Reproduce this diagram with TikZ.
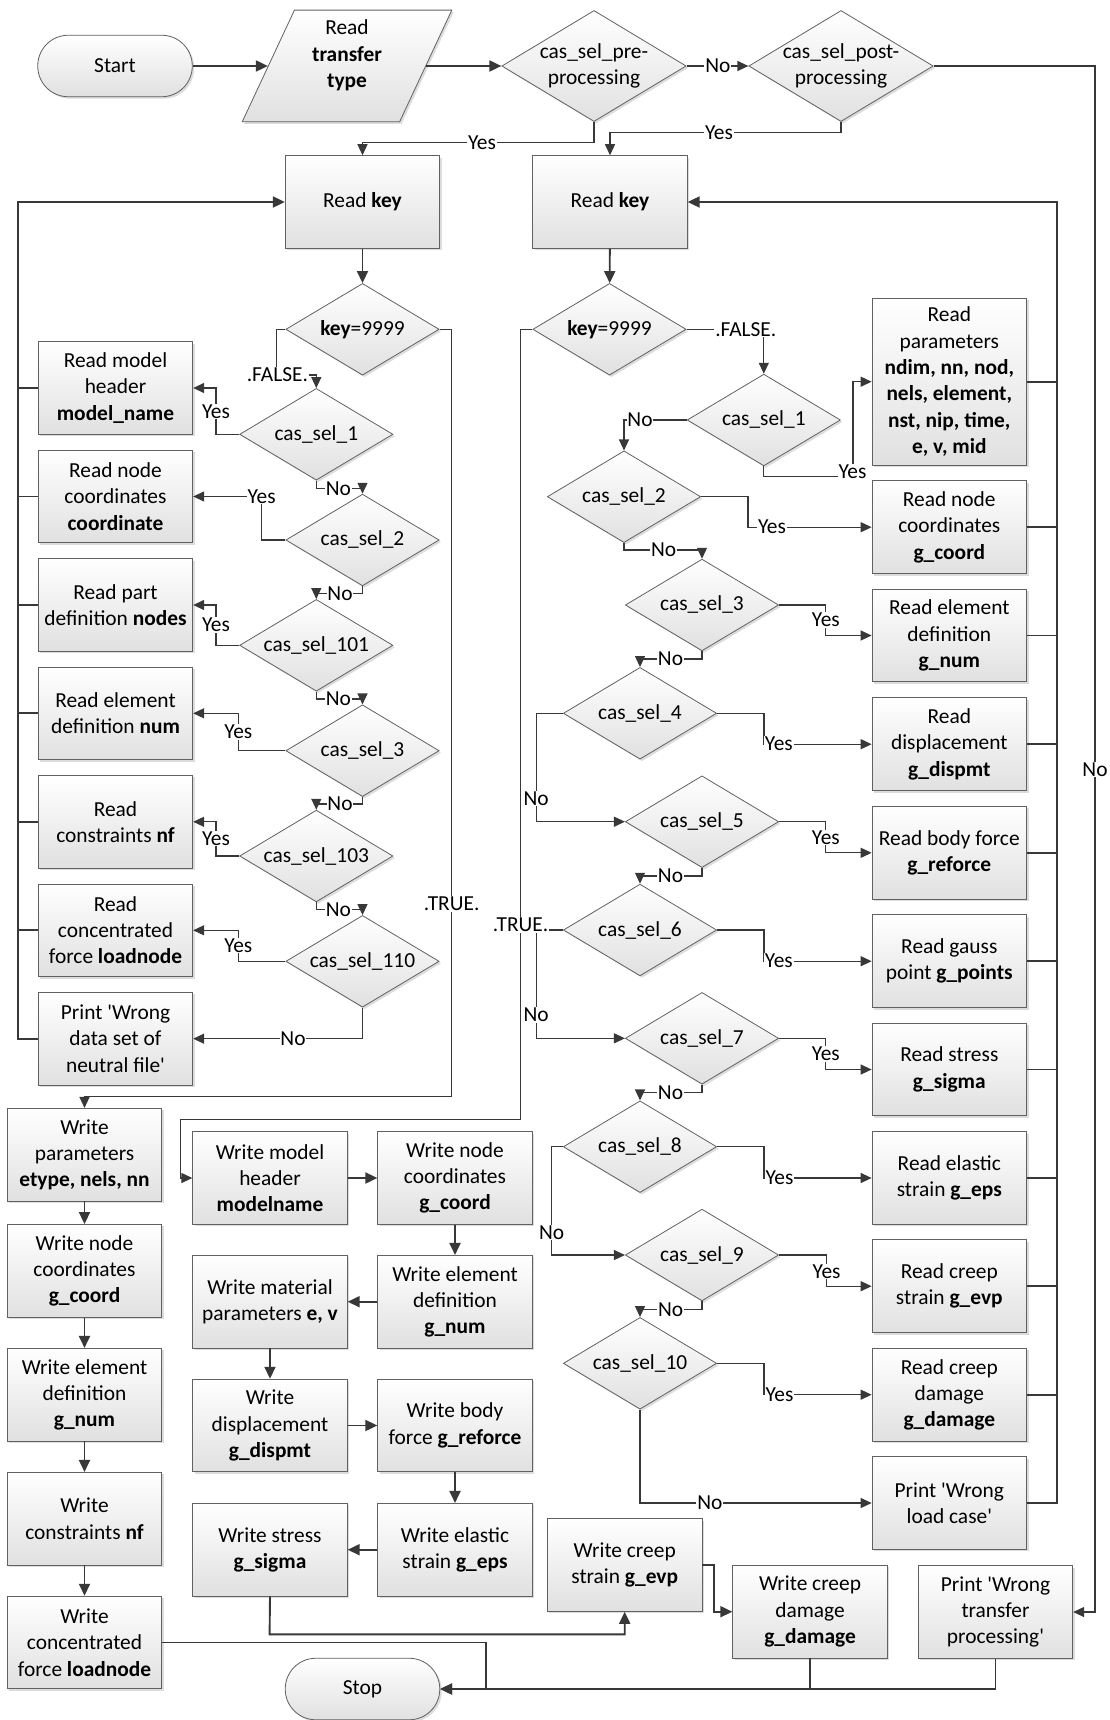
\documentclass[tikz,border=0pt]{standalone}
\usepackage{fontspec}
\setmainfont{Carlito}
\usetikzlibrary{arrows.meta,shapes.geometric,shadows}
\newcommand{\sq}{\textquotesingle}

\begin{document}
\begin{tikzpicture}[x=1pt,y=-1pt,
  every node/.style={font=\fontsize{21.4}{26.3}\selectfont},
  fillbox/.style={top color=white, bottom color=black!12, draw=black!62, line width=0.8pt,
    drop shadow={shadow xshift=2pt, shadow yshift=-2pt, fill=black!30, opacity=0.45}},
  procbox/.style={fillbox, rectangle, minimum width=154.5, minimum height=92.7, align=center, inner sep=1pt},
  tallbox/.style={procbox, minimum height=166.7},
  termnode/.style={fillbox, rectangle, rounded corners=30.5pt, minimum width=154.5, minimum height=61.5},
  paranode/.style={fillbox, trapezium, trapezium left angle=63.6, trapezium right angle=116.4,
    trapezium stretches=true, minimum width=209.7, minimum height=111.7, inner sep=6pt},
  dectxt/.style={align=center, inner sep=0pt},
  decnode/.style={fillbox, diamond, inner sep=0pt, minimum width=153.3, minimum height=91.7,
    label={[dectxt]center:{#1}}},
  bigdec/.style={decnode={#1}, minimum width=184.4, minimum height=111},
  ln/.style={draw=black!78, line width=1.25pt},
  lk/.style={ln, -{Triangle[length=11pt,width=10pt]}},
  lkb/.style={ln, line width=1.9pt, -{Triangle[length=12pt,width=11pt]}},
  lnb/.style={ln, line width=1.9pt},
  tag/.style={fill=white, inner sep=0.8pt}
]
\useasboundingbox (0,0) rectangle (1109,1720);

% ---------- top row ----------
\node[termnode] (start) at (115,66) {Start};
\node[paranode] (para) at (347,66) {};
\node[dectxt] (paratext) at (347,55.3) {Read\\\textbf{transfer}\\\textbf{type}};
\node[bigdec={cas\_sel\_pre-\\processing}] (D1) at (594,66) {};
\node[bigdec={cas\_sel\_post-\\processing}] (D2) at (841,66) {};

\node[procbox] (KL) at (362.5,202) {Read \textbf{key}};
\node[procbox] (KR) at (610,202) {Read \textbf{key}};
\node[decnode={\textbf{key}=9999}] (ZL) at (362.5,329.3) {};
\node[decnode={\textbf{key}=9999}] (ZR) at (609.5,329.3) {};

% ---------- pre-processing branch ----------
\node[decnode={cas\_sel\_1}]   (CL1)   at (316.3,434.3) {};
\node[decnode={cas\_sel\_2}]   (CL2)   at (362.5,540) {};
\node[decnode={cas\_sel\_101}] (CL101) at (316.3,645.3) {};
\node[decnode={cas\_sel\_3}]   (CL3)   at (362.5,750.7) {};
\node[decnode={cas\_sel\_103}] (CL103) at (316.3,856) {};
\node[decnode={cas\_sel\_110}] (CL110) at (362.5,961.3) {};

\node[procbox] (BL1) at (115.5,388)    {Read model\\header\\\textbf{model\_name}};
\node[procbox] (BL2) at (115.5,496.5)  {Read node\\coordinates\\\textbf{coordinate}};
\node[procbox] (BL3) at (115.5,605)    {Read part\\definition \textbf{nodes}};
\node[procbox] (BL4) at (115.5,713.3)  {Read element\\definition \textbf{num}};
\node[procbox] (BL5) at (115.5,821.8)  {Read\\constraints \textbf{nf}};
\node[procbox] (BL6) at (115.5,930.3)  {Read\\concentrated\\force \textbf{loadnode}};
\node[procbox] (BL7) at (115.5,1038.7) {Print \sq Wrong\\data set of\\neutral file\sq};

% ---------- post-processing branch ----------
\node[decnode={cas\_sel\_1}]  (CR1)  at (763.8,420) {};
\node[decnode={cas\_sel\_2}]  (CR2)  at (624,496.7) {};
\node[decnode={cas\_sel\_3}]  (CR3)  at (702,605) {};
\node[decnode={cas\_sel\_4}]  (CR4)  at (640,713.3) {};
\node[decnode={cas\_sel\_5}]  (CR5)  at (702,821.7) {};
\node[decnode={cas\_sel\_6}]  (CR6)  at (640,930) {};
\node[decnode={cas\_sel\_7}]  (CR7)  at (702,1038.3) {};
\node[decnode={cas\_sel\_8}]  (CR8)  at (640,1146.7) {};
\node[decnode={cas\_sel\_9}]  (CR9)  at (702,1255) {};
\node[decnode={cas\_sel\_10}] (CR10) at (640,1363.3) {};

\node[tallbox] (RB1)  at (949.3,381.7) {Read\\parameters\\\textbf{ndim, nn, nod,}\\\textbf{nels, element,}\\\textbf{nst, nip, time,}\\\textbf{e, v, mid}};
\node[procbox] (RB2)  at (949.3,527.2)  {Read node\\coordinates\\\textbf{g\_coord}};
\node[procbox] (RB3)  at (949.3,635.5)  {Read element\\definition\\\textbf{g\_num}};
\node[procbox] (RB4)  at (949.3,744.2)  {Read\\displacement\\\textbf{g\_dispmt}};
\node[procbox] (RB5)  at (949.3,852.8)  {Read body force\\\textbf{g\_reforce}};
\node[procbox] (RB6)  at (949.3,961.2)  {Read gauss\\point \textbf{g\_points}};
\node[procbox] (RB7)  at (949.3,1069.5) {Read stress\\\textbf{g\_sigma}};
\node[procbox] (RB8)  at (949.3,1178)   {Read elastic\\strain \textbf{g\_eps}};
\node[procbox] (RB9)  at (949.3,1286.2) {Read creep\\strain \textbf{g\_evp}};
\node[procbox] (RB10) at (949.3,1394.7) {Read creep\\damage\\\textbf{g\_damage}};
\node[procbox] (RB11) at (949.3,1503)   {Print \sq Wrong\\load case\sq};

% ---------- write blocks ----------
\node[procbox] (WP) at (84.5,1154.7) {Write\\parameters\\\textbf{etype, nels, nn}};
\node[procbox] (WN) at (84.5,1270.8) {Write node\\coordinates\\\textbf{g\_coord}};
\node[procbox] (WE) at (84.5,1394.7) {Write element\\definition\\\textbf{g\_num}};
\node[procbox] (WC) at (84.5,1518.7) {Write\\constraints \textbf{nf}};
\node[procbox] (WF) at (84.5,1642.5) {Write\\concentrated\\force \textbf{loadnode}};

\node[procbox] (WMH) at (270,1178)   {Write model\\header\\\textbf{modelname}};
\node[procbox] (WNC) at (455,1178)   {Write node\\coordinates\\\textbf{g\_coord}};
\node[procbox] (WED) at (455,1301.7) {Write element\\definition\\\textbf{g\_num}};
\node[procbox] (WMP) at (270,1301.7) {Write material\\parameters \textbf{e, v}};
\node[procbox] (WD)  at (270,1425.5) {Write\\displacement\\\textbf{g\_dispmt}};
\node[procbox] (WB)  at (455,1425.5) {Write body\\force \textbf{g\_reforce}};
\node[procbox] (WES) at (455,1549.7) {Write elastic\\strain \textbf{g\_eps}};
\node[procbox] (WS)  at (270,1549.7) {Write stress\\\textbf{g\_sigma}};
\node[procbox] (WCS) at (624.7,1565) {Write creep\\strain \textbf{g\_evp}};
\node[procbox] (WCD) at (810,1611.7) {Write creep\\damage\\\textbf{g\_damage}};
\node[procbox] (PT)  at (995.5,1612) {Print \sq Wrong\\transfer\\processing\sq};
\node[termnode] (stop) at (362.5,1689) {Stop};

% ---------- connectors: top ----------
\draw[lkb] (start) -- (para);
\draw[lkb] (para) -- (D1);
\draw[lk] (D1) -- (D2);
\draw[lk] (D1.south) |- (362.5,142.7) -- (KL.north);
\draw[lk] (D2.south) |- (610,132.3) -- (KR.north);
\draw[lk] (D2.east) -| (1095,1612) -- (PT.east);
\draw[lkb] (KL) -- (ZL);
\draw[lkb] (KR) -- (ZR);

% ---------- connectors: pre-processing ----------
\draw[lk] (ZL.west) -- (276.7,329.3) -- (276.7,375) -| (CL1.north);
\draw[lk] (ZL.east) -- (451.7,329.3) -- (451.7,1096.7) -| (WP.north);

\draw[lk] (CL1.west) -| (216,388) -- (BL1.east);
\draw[lk] (CL2.west) -| (261.7,496.5) -- (BL2.east);
\draw[lk] (CL101.west) -| (216,605) -- (BL3.east);
\draw[lk] (CL3.west) -| (238.3,713.3) -- (BL4.east);
\draw[lk] (CL103.west) -| (216,821.8) -- (BL5.east);
\draw[lk] (CL110.west) -| (238.3,930.3) -- (BL6.east);

\draw[lk] (CL1.south) -- (316.3,488.3) -| (CL2.north);
\draw[lk] (CL2.south) -- (362.5,593.3) -| (CL101.north);
\draw[lk] (CL101.south) -- (316.3,699) -| (CL3.north);
\draw[lk] (CL3.south) -- (362.5,804) -| (CL103.north);
\draw[lk] (CL103.south) -- (316.3,909.5) -| (CL110.north);
\draw[lk] (CL110.south) |- (BL7.east);

\draw[lkb] (BL7.west) -- (18.3,1038.7) -- (18.3,202) -- (KL.west);
\foreach \b in {BL1,BL2,BL3,BL4,BL5,BL6}
  \draw[lnb] (\b.west) -- (\b.west -| 18.3,0);

% ---------- connectors: post-processing ----------
\draw[lk] (ZR.east) -| (CR1.north);
\draw[lk] (ZR.west) -- (520.5,329.3) -- (520.5,1119.3) -- (180.4,1119.3) |- (WMH.west);

\draw[lk] (CR1.west) -| (CR2.north);
\draw[lk] (CR1.south) -- (763.8,476.7) -| (853,381.7) -- (RB1.west);
\draw[lk] (CR2.east) -| (748,527.2) -- (RB2.west);
\draw[lk] (CR2.south) -- (624,550) -| (CR3.north);
\draw[lk] (CR3.east) -| (825.8,635.5) -- (RB3.west);
\draw[lk] (CR3.south) -- (702,659) -| (CR4.north);
\draw[lk] (CR4.east) -| (764,744.2) -- (RB4.west);
\draw[lk] (CR4.west) -| (536.2,821.7) -- (CR5.west);
\draw[lk] (CR5.east) -| (825.8,852.8) -- (RB5.west);
\draw[lk] (CR5.south) -- (702,876) -| (CR6.north);
\draw[lk] (CR6.east) -| (764,961.2) -- (RB6.west);
\draw[lk] (CR6.west) -| (536.2,1038.3) -- (CR7.west);
\draw[lk] (CR7.east) -| (825.8,1069.5) -- (RB7.west);
\draw[lk] (CR7.south) -- (702,1092.7) -| (CR8.north);
\draw[lk] (CR8.east) -| (764,1178) -- (RB8.west);
\draw[lk] (CR8.west) -| (551.6,1255) -- (CR9.west);
\draw[lk] (CR9.east) -| (826.6,1286.2) -- (RB9.west);
\draw[lk] (CR9.south) -- (702,1309.3) -| (CR10.north);
\draw[lk] (CR10.east) -| (764,1394.7) -- (RB10.west);
\draw[lk] (CR10.south) |- (RB11.west);

\draw[lkb] (RB11.east) -- (1057,1503) -- (1057,202) -- (KR.east);
\foreach \b in {RB1,RB2,RB3,RB4,RB5,RB6,RB7,RB8,RB9,RB10}
  \draw[lnb] (\b.east) -- (\b.east -| 1057,0);

% ---------- connectors: write blocks ----------
\draw[lkb] (WP) -- (WN);
\draw[lkb] (WN) -- (WE);
\draw[lkb] (WE) -- (WC);
\draw[lkb] (WC) -- (WF);
\draw[lkb] (WMH) -- (WNC);
\draw[lkb] (WNC) -- (WED);
\draw[lkb] (WED) -- (WMP);
\draw[lkb] (WMP) -- (WD);
\draw[lkb] (WD) -- (WB);
\draw[lkb] (WB) -- (WES);
\draw[lkb] (WES) -- (WS);
\draw[lkb] (WS.south) -- (269.6,1634.3) -| (WCS.south);
\draw[lkb] (WCS.east) -- (714.2,1565) |- (WCD.west);
\draw[lkb] (WF.east) -- (486.4,1642.5) |- (stop.east);
\draw[lkb] (PT.south) |- (stop.east);
\draw[lnb] (WCD.south) -- (810,1689);

% ---------- branch labels ----------
\node[tag] (tA) at (717.8,66)    {No};
\node[tag] (tB) at (482,142.7)   {Yes};
\node[tag] (tC) at (719,132.3)   {Yes};
\node[tag] (tD) at (1095,769.3)  {No};

\node[tag] (tE) at (277.4,375)   {.FALSE.};
\node[tag] (tF) at (451.7,904)   {.TRUE.};
\node[tag] at (216,411.7)   {Yes};
\node[tag] at (261.7,496.5) {Yes};
\node[tag] at (216,625)     {Yes};
\node[tag] at (238.3,732)   {Yes};
\node[tag] at (216,838.5)   {Yes};
\node[tag] at (238.3,945.7) {Yes};
\node[tag] at (338.3,488.3) {No};
\node[tag] at (340,593.3)   {No};
\node[tag] at (338.3,699)   {No};
\node[tag] at (340,804)     {No};
\node[tag] at (338.3,909.5) {No};
\node[tag] at (293,1038.7)  {No};

\node[tag] at (745.8,329.3) {.FALSE.};
\node[tag] at (520.5,925)   {.TRUE.};
\node[tag] at (640,420)     {No};
\node[tag] at (852.5,472)   {Yes};
\node[tag] at (772,527.2)   {Yes};
\node[tag] at (663.7,550)   {No};
\node[tag] at (825.8,620)   {Yes};
\node[tag] at (670.5,659)   {No};
\node[tag] at (778.8,744.2) {Yes};
\node[tag] at (536.2,798.3) {No};
\node[tag] at (825.8,837.3) {Yes};
\node[tag] at (670.5,876)   {No};
\node[tag] at (778.8,961.2) {Yes};
\node[tag] at (536.2,1015)  {No};
\node[tag] at (825.8,1054)  {Yes};
\node[tag] at (670.5,1092.7){No};
\node[tag] at (779.5,1178)  {Yes};
\node[tag] at (551.6,1232.7){No};
\node[tag] at (826.6,1271.7){Yes};
\node[tag] at (670.6,1309.3){No};
\node[tag] at (779.5,1394.7){Yes};
\node[tag] at (709.8,1503)  {No};
\end{tikzpicture}
\end{document}
